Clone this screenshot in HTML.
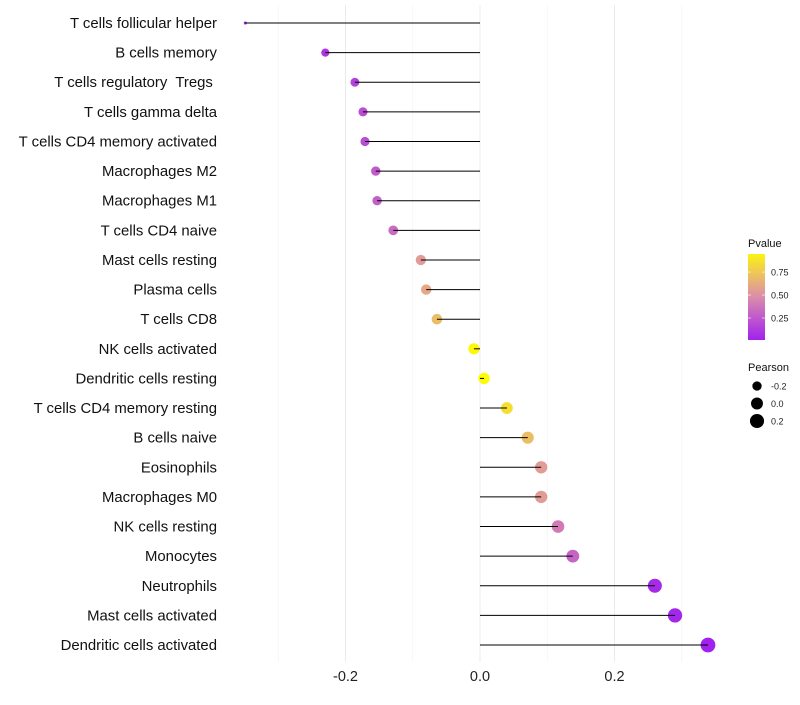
<!DOCTYPE html>
<html><head><meta charset="utf-8"><style>
body{margin:0;background:#fff;font-family:"Liberation Sans",sans-serif}
</style></head><body>
<svg id="c" width="800" height="700" xmlns="http://www.w3.org/2000/svg"></svg>
<script>
const categories=["T cells follicular helper","B cells memory","T cells regulatory  Tregs ","T cells gamma delta","T cells CD4 memory activated","Macrophages M2","Macrophages M1","T cells CD4 naive","Mast cells resting","Plasma cells","T cells CD8","NK cells activated","Dendritic cells resting","T cells CD4 memory resting","B cells naive","Eosinophils","Macrophages M0","NK cells resting","Monocytes","Neutrophils","Mast cells activated","Dendritic cells activated"];
const pearson=[-0.349,-0.230,-0.186,-0.174,-0.171,-0.155,-0.153,-0.129,-0.088,-0.080,-0.064,-0.009,0.006,0.040,0.071,0.091,0.091,0.116,0.138,0.260,0.290,0.339];
const pvalue=[0.02,0.1,0.15,0.2,0.2,0.25,0.28,0.33,0.55,0.6,0.7,0.97,0.98,0.85,0.7,0.55,0.55,0.4,0.3,0.05,0.03,0.01];
const xTicks=[-0.2,0.0,0.2];
const xTickLabels=["-0.2","0.0","0.2"];
const pLegendTicks=[0.25,0.5,0.75];
const pLegendLabels=["0.25","0.50","0.75"];
const sizeLegend=[-0.2,0.0,0.2];
const sizeLegendLabels=["-0.2","0.0","0.2"];

const svg=document.getElementById('c');const NS="http://www.w3.org/2000/svg";
function mk(t,a,p){const e=document.createElementNS(NS,t);for(const k in a)e.setAttribute(k,a[k]);(p||svg).appendChild(e);return e;}
const x=v=>480+v*672.5;
const y=i=>23+i*(622/21);
function r(v){let a=v>=-0.23?17+66*(v+0.23):2.25+(17-2.25)*(v+0.35)/0.12;return Math.sqrt(Math.max(a,2.25));}
function col(p){const stops=[[0,[160,32,240]],[0.5,[222,145,168]],[1,[255,255,0]]];
 for(let i=0;i<2;i++){const a=stops[i],b=stops[i+1];if(p<=b[0]){const t=(p-a[0])/(b[0]-a[0]);return 'rgb('+a[1].map((c,j)=>Math.round(c+(b[1][j]-c)*t)).join(',')+')';}}return 'rgb(255,255,0)';}
[-0.3,-0.1,0.1,0.3].forEach(v=>{const g=mk('line',{x1:x(v),x2:x(v),y1:5,y2:662,stroke:'#f2f2f2','stroke-width':0.6});

});
xTicks.forEach((v,i)=>{const g=mk('line',{x1:x(v),x2:x(v),y1:5,y2:662,stroke:'#ebebeb','stroke-width':1});


const t=mk('text',{x:x(v),y:681,'text-anchor':'middle','font-size':14.5,fill:'#222'});t.textContent=xTickLabels[i];

});
categories.forEach((c,i)=>{
 const t=mk('text',{x:217,y:y(i)+5,'text-anchor':'end','font-size':14.9,fill:'#111'});t.style.whiteSpace='pre';t.textContent=c;
 
 
 const d=mk('circle',{cx:x(pearson[i]),cy:y(i),r:r(pearson[i]),fill:col(pvalue[i])});
 
 
 const l=mk('line',{x1:x(0),x2:x(pearson[i]),y1:y(i),y2:y(i),stroke:'#000','stroke-width':1});
 
 
});
const defs=mk('defs',{});const lg=mk('linearGradient',{id:'g',x1:0,y1:1,x2:0,y2:0},defs);
[0,0.25,0.5,0.75,1].forEach(p=>mk('stop',{offset:p,'stop-color':col(0.011+p*0.935)},lg));
let t=mk('text',{x:748,y:247,'font-size':11,fill:'#111'});t.textContent='Pvalue';


const bar=mk('rect',{x:748,y:254,width:17,height:86,fill:'url(#g)'});


const py=p=>340-(p-0.011)/0.935*86;
pLegendTicks.forEach((p,i)=>{mk('line',{x1:748,x2:751,y1:py(p),y2:py(p),stroke:'#fff','stroke-width':0.6});mk('line',{x1:762,x2:765,y1:py(p),y2:py(p),stroke:'#fff','stroke-width':0.6});
 const s=mk('text',{x:771,y:py(p)+3.5,'font-size':9,fill:'#222'});s.textContent=pLegendLabels[i];
 
 });
t=mk('text',{x:748,y:371,'font-size':11,fill:'#111'});t.textContent='Pearson';


sizeLegend.forEach((v,i)=>{const cy=386+i*17.5;const c=mk('circle',{cx:757,cy:cy,r:r(v)+0.3,fill:'#000'});
 
 
 const s=mk('text',{x:771,y:cy+3.5,'font-size':9,fill:'#222'});s.textContent=sizeLegendLabels[i];
 
 });
</script>
</body></html>
